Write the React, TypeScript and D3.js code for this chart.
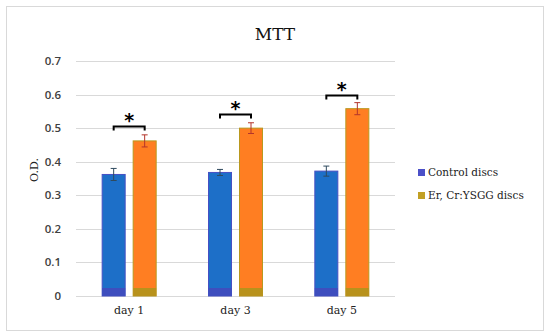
import React from "react";
import * as d3 from "d3";

const categories = ["day 1", "day 3", "day 5"];
const seriesNames = ["Control discs", "Er, Cr:YSGG discs"];
const controlValues = [0.362, 0.368, 0.372];
const controlErrors = [0.018, 0.009, 0.015];
const laserValues = [0.462, 0.5, 0.558];
const laserErrors = [0.018, 0.016, 0.018];
const bracketLevels = [0.505, 0.542, 0.6];
const yTicks = [0, 0.1, 0.2, 0.3, 0.4, 0.5, 0.6, 0.7];

const W = 550;
const H = 336;

export default function App() {
  const plotLeft = 76;
  const plotRight = 395;
  const y = d3.scaleLinear().domain([0, 0.7]).range([296, 61]);
  const x = d3.scaleBand().domain(categories).range([plotLeft, plotRight]).paddingInner(0).paddingOuter(0);
  const barW = 23;
  const gap = 8;
  const series = [
    { name: seriesNames[0], values: controlValues, errors: controlErrors, fill: "#1D6FC8", base: "#3E4EBE", stroke: "#4650C4", err: "#2F4A5E", sw: "#4B50C8" },
    { name: seriesNames[1], values: laserValues, errors: laserErrors, fill: "#FF7E22", base: "#B8921C", stroke: "#B9981E", err: "#B3352B", sw: "#C2A024" },
  ];
  const offs = [-(gap / 2 + barW), gap / 2];
  const bandH = 8;

  return (
    <svg width={W} height={H} style={{ position: "absolute", left: 0, top: 0 }}>
      <rect x={0} y={0} width={W} height={H} fill="#fff" />
      <rect x={6.5} y={6.5} width={537} height={324} fill="#fff" stroke="#d9d9d9" strokeWidth={1} />
      <text x={275} y={40} textAnchor="middle" fontFamily="'DejaVu Serif', serif" fontSize={17} fill="#111">MTT</text>
      {yTicks.map((t) => (
        <g key={t}>
          <line x1={plotLeft} x2={plotRight} y1={Math.round(y(t)) + 0.5} y2={Math.round(y(t)) + 0.5} stroke="#d9d9d9" strokeWidth={1} />
          <text x={61} y={y(t) + 4} textAnchor="end" fontFamily="'Open Sans', sans-serif" fontWeight={600} fontSize={11.5} fill="#404040">{t === 0 ? "0" : t.toFixed(1)}</text>
        </g>
      ))}
      <text transform={`translate(${38},${170}) rotate(-90)`} textAnchor="middle" fontFamily="'DejaVu Serif', serif" fontSize={11} fill="#222">O.D.</text>
      {categories.map((c, i) => {
        const cx = (x(c) as number) + x.bandwidth() / 2;
        return (
          <g key={c}>
            {series.map((s, j) => {
              const bx = cx + offs[j];
              const v = s.values[i];
              const top = y(v);
              const bottom = y(0);
              const ex = bx + barW / 2;
              const e1 = y(v + s.errors[i]);
              const e2 = y(v - s.errors[i]);
              return (
                <g key={s.name}>
                  <rect x={bx} y={top} width={barW} height={bottom - top} fill={s.fill} stroke={s.stroke} strokeWidth={1} />
                  <rect x={bx} y={bottom - bandH} width={barW} height={bandH} fill={s.base} />
                  <line x1={ex} x2={ex} y1={e1} y2={e2} stroke={s.err} strokeWidth={1} />
                  <line x1={ex - 3} x2={ex + 3} y1={e1} y2={e1} stroke={s.err} strokeWidth={1} />
                  <line x1={ex - 3} x2={ex + 3} y1={e2} y2={e2} stroke={s.err} strokeWidth={1} />
                </g>
              );
            })}
            {(() => {
              const xa = cx + offs[0] + barW / 2;
              const xb = cx + offs[1] + barW / 2;
              const by = Math.round(y(bracketLevels[i])) + 0.5;
              return (
                <g>
                  <path d={`M${xa},${by + 4}V${by}H${xb}V${by + 4}`} fill="none" stroke="#000" strokeWidth={2} />
                  <text x={(xa + xb) / 2} y={by} textAnchor="middle" fontFamily="'DejaVu Sans', sans-serif" fontWeight="bold" fontSize={19} fill="#000">*</text>
                </g>
              );
            })()}
            <text x={cx} y={314} textAnchor="middle" fontFamily="'DejaVu Serif', serif" fontSize={11} fill="#222">{c}</text>
          </g>
        );
      })}
      {series.map((s, j) => (
        <g key={s.name}>
          <rect x={418} y={172 + j * 23 - 3} width={7} height={7} fill={s.sw} />
          <text x={428} y={172 + j * 23 + 4} fontFamily="'DejaVu Serif', serif" fontSize={10.5} fill="#222">{s.name}</text>
        </g>
      ))}
    </svg>
  );
}
